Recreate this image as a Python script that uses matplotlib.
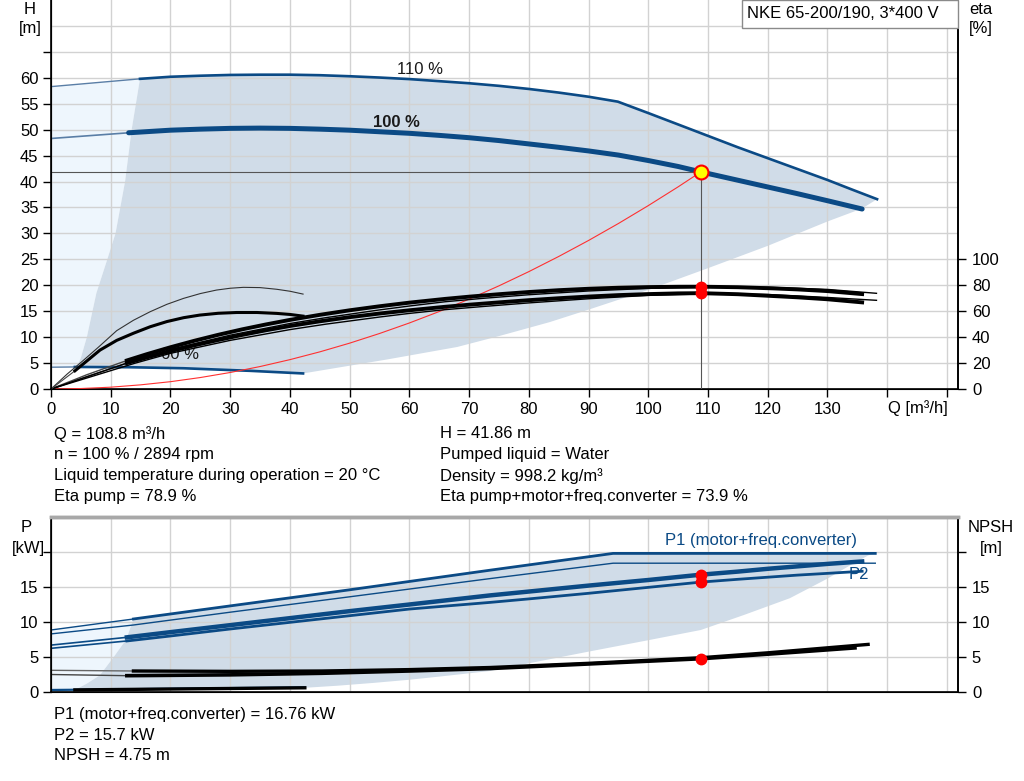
import numpy as np
import matplotlib
matplotlib.use("Agg")
from matplotlib import pyplot as plt
from matplotlib.patches import Rectangle

plt.rcParams['font.family'] = ['Liberation Sans', 'DejaVu Sans']

BLUE = '#0b4a85'
THINBLUE = '#5a7ea6'
FILL = '#d0dce8'
FILL_LIGHT = '#eef6fd'
GRID = '#d2d2d2'
FS = 12

# ---- head curves (Q in m3/h, H in m) ----
q_h110 = [0, 14.9, 20, 25, 30, 35, 40, 45, 50, 55, 60, 65, 70, 75, 80, 85, 90, 94.9,
          100, 105, 110, 115, 120, 125, 130, 134, 138.3]
h_h110 = [58.3, 59.8, 60.2, 60.4, 60.55, 60.6, 60.6, 60.5, 60.3, 60.05, 59.75, 59.35, 58.95, 58.45,
          57.85, 57.15, 56.35, 55.4, 53.2, 51.0, 48.8, 46.6, 44.5, 42.4, 40.3, 38.5, 36.6]
q_h100 = [0, 13, 20, 25, 30, 35, 40, 45, 50, 55, 60, 65, 70, 75, 80, 85, 90, 95, 100, 105,
          108.8, 115, 120, 125, 130, 135.8]
h_h100 = [48.3, 49.4, 49.9, 50.1, 50.25, 50.3, 50.25, 50.1, 49.9, 49.6, 49.3, 48.9, 48.45, 47.9,
          47.25, 46.6, 45.9, 45.1, 44.05, 42.9, 41.86, 40.25, 38.95, 37.65, 36.3, 34.7]
q_h60 = [0, 4, 13, 22.2, 33.4, 42.2]
h_h60 = [4.2, 4.25, 4.2, 4.0, 3.5, 3.0]

# operating range borders of the head diagram
q_hmin = [4.3, 5.0, 6.0, 7.6, 9.4, 10.8, 12.4, 13.5, 14.9]
h_hmin = [4.25, 6, 10, 18.5, 24.9, 30, 40, 50, 59.8]
q_hmax = [42.2, 56.3, 68, 75, 83.5, 90, 100, 110, 120, 130, 135.8, 138.3]
h_hmax = [3.0, 5.7, 8.1, 10.2, 12.9, 15.3, 19.1, 23.3, 27.6, 32.3, 34.8, 36.6]

# system curve
q_sys = [0, 5, 10, 15, 20, 25, 30, 35, 40, 45, 50, 55, 60, 65, 70, 75, 80, 85, 90, 95, 100, 105, 108.8]
h_sys = [0, 0.09, 0.35, 0.8, 1.41, 2.21, 3.18, 4.33, 5.66, 7.16, 8.84, 10.7, 12.73, 14.94, 17.33,
         19.89, 22.63, 25.55, 28.64, 31.91, 35.36, 38.98, 41.86]

# ---- efficiency curves (%) ----
q_eta100 = [0, 6, 12.7, 16, 20, 24, 28, 32, 36, 40, 45, 50, 55, 60, 66, 70, 75, 80, 85, 90, 95,
            100, 105, 108.8, 115, 120.9, 125, 130, 135.8]
eta_pump100 = [0, 11, 22, 26.8, 32.2, 37.2, 41.8, 46, 49.8, 53.3, 57.2, 60.7, 63.8, 66.6, 69.5,
               71.2, 73.1, 74.8, 76.2, 77.3, 78.1, 78.6, 78.85, 78.9, 78.5, 77.6, 76.8, 75.5, 73.2]
eta_tot100 = [0, 9.5, 20, 24.3, 29.2, 33.7, 37.8, 41.7, 45.3, 48.6, 52.2, 55.4, 58.2, 60.7, 63.4,
              65.0, 66.8, 68.5, 70.0, 71.3, 72.4, 73.2, 73.75, 73.9, 73.1, 71.7, 70.7, 69.2, 66.8]
q_eta110 = [0, 14, 20, 30, 40, 46, 55, 60, 66, 72, 80, 90, 100, 110, 120, 130, 138.2]
eta_pump110 = [0, 22, 30.5, 41.5, 50.5, 55, 61, 64, 67.3, 69.8, 72.7, 75.6, 77.6, 78.6, 78.5, 76.8, 73.8]
eta_tot110 = [0, 19.8, 27.5, 37.5, 45.8, 50, 55.5, 58.3, 61.2, 63.5, 66.4, 69.6, 72.2, 73.4, 72.9, 70.6, 68.4]
q_eta_p60 = [0, 2.7, 5.4, 8, 11, 13.8, 16.6, 19.4, 22.2, 25, 27.7, 30, 32.2, 35, 37.8, 40, 42.2]
eta_pump60 = [0, 11.5, 22, 32.5, 45, 53, 59.6, 65.3, 69.9, 73.6, 76.3, 77.7, 78.4, 78.2, 76.9, 75.4, 73.2]
q_eta_t60 = [0, 4, 8.2, 11, 13.8, 16.6, 19.4, 22.2, 24.9, 28, 31.1, 34.5, 37.8, 40, 42.2]
eta_tot60 = [0, 14, 30, 37.5, 43, 48, 52, 55, 57, 58.4, 59, 59, 58.3, 57.5, 56.2]

# ---- power / NPSH curves ----
q_p110 = [0, 13.8, 30, 50, 73.5, 94.1, 138]
p1_110 = [8.86, 10.43, 12.3, 14.6, 17.4, 19.8, 19.8]
p2_110 = [8.3, 9.57, 11.4, 13.6, 16.2, 18.4, 18.4]
q_p100 = [0, 12.7, 20, 30, 40, 50, 60, 73.5, 80, 90, 100, 108.8, 115, 120, 125, 130, 135.8]
p1_100 = [6.7, 7.81, 8.55, 9.55, 10.55, 11.55, 12.5, 13.8, 14.35, 15.2, 16.0, 16.76, 17.2, 17.6,
          17.95, 18.3, 18.65]
p2_100 = [6.24, 7.29, 8.0, 9.0, 9.95, 10.9, 11.85, 12.8, 13.3, 14.1, 14.95, 15.7, 16.1, 16.4,
          16.7, 16.95, 17.25]
q_npsh100 = [0, 12.7, 30, 45.3, 60, 73.5, 90, 108.8, 120, 134.6]
npsh100 = [2.5, 2.33, 2.45, 2.67, 3.0, 3.35, 4.0, 4.75, 5.4, 6.3]
q_npsh110 = [0, 13.8, 30, 45.3, 60, 73.5, 90, 108.8, 120, 136.8]
npsh110 = [3.1, 3.0, 2.95, 3.0, 3.2, 3.5, 4.1, 4.9, 5.6, 6.8]
q_60 = [0, 4, 42.5]
p_60 = [0.29, 0.32, 0.67]
npsh60 = [0.3, 0.3, 0.6]

q_pmin = [4.0, 6.0, 8.2, 10.5, 12.6, 13.8]
p_pmin = [0.3, 1.2, 2.4, 5.0, 7.5, 10.43]
q_pmax = [42.5, 48, 54, 60, 65, 73.5, 80, 90.2, 100, 108.8, 116, 123.7, 130, 134, 136.8, 138]
p_pmax = [0.6, 0.9, 1.3, 1.75, 2.2, 3.0, 4.1, 5.8, 7.4, 8.86, 11.0, 13.4, 16.2, 18.2, 19.5, 19.8]

# duty point
q_op = 108.8
h_op = 41.86
eta_op = [78.9, 73.9]
p_op = [16.76, 15.7]
npsh_op = 4.75

info_left = ["Q = 108.8 m\u00b3/h", "n = 100 % / 2894 rpm",
             "Liquid temperature during operation = 20 \u00b0C", "Eta pump = 78.9 %"]
info_right = ["H = 41.86 m", "Pumped liquid = Water",
              "Density = 998.2 kg/m\u00b3", "Eta pump+motor+freq.converter = 73.9 %"]
info_bottom = ["P1 (motor+freq.converter) = 16.76 kW", "P2 = 15.7 kW", "NPSH = 4.75 m"]

W, H = 1024, 781


def fpos(x, y):
    return x / W, 1 - y / H


fig = plt.figure(figsize=(W / 100, H / 100), dpi=100)
fig.patch.set_facecolor('white')

# ================= head / efficiency chart =================
ax = fig.add_axes([51 / W, 1 - 389 / H, 907 / W, 389 / H])
ax.set_xlim(0, 151.85)
ax.set_ylim(0, 75)

# light area left of min flow
lq = np.concatenate([q_h110[:2], q_hmin[::-1], [q_h60[1], q_h60[0]]])
lh = np.concatenate([h_h110[:2], h_hmin[::-1], [h_h60[1], h_h60[0]]])
ax.fill(lq, lh, color=FILL_LIGHT, lw=0, zorder=1)

# operating area
mq = np.concatenate([q_h110[1:], q_hmax[::-1][1:], q_h60[:0:-1][1:], q_hmin])
mh = np.concatenate([h_h110[1:], h_hmax[::-1][1:], h_h60[:0:-1][1:], h_hmin])
ax.fill(mq, mh, color=FILL, lw=0, zorder=1)

ax.set_xticks(range(0, 160, 10))
ax.set_xticklabels([str(v) if v <= 130 else '' for v in range(0, 160, 10)])
ax.set_yticks(range(0, 70, 5))
ax.set_yticklabels([str(v) if v <= 60 else '' for v in range(0, 70, 5)])
ax.grid(True, color=GRID, lw=1)
ax.axhline(70, color=GRID, lw=1, zorder=1.5)
ax.tick_params(direction='out', length=6, width=1, labelsize=FS, pad=3)
ax.spines['top'].set_visible(False)
for s in ['left', 'bottom', 'right']:
    ax.spines[s].set_linewidth(1.2)

ax.plot(q_h110[:2], h_h110[:2], color=THINBLUE, lw=1.0, zorder=3)
ax.plot(q_h110[1:], h_h110[1:], color=BLUE, lw=1.9, zorder=3)
ax.plot(q_h100[:2], h_h100[:2], color=THINBLUE, lw=1.2, zorder=3)
ax.plot(q_h100[1:], h_h100[1:], color=BLUE, lw=3.6, zorder=3, solid_capstyle='round')
ax.plot(q_h60[:2], h_h60[:2], color=THINBLUE, lw=1.0, zorder=3)
ax.plot(q_h60[1:], h_h60[1:], color=BLUE, lw=1.9, zorder=3)
ax.plot(q_sys, h_sys, color='#ff3030', lw=0.8, zorder=3)

ax.plot([0, q_op], [h_op, h_op], color='#555555', lw=0.8, zorder=3)
ax.plot([q_op, q_op], [0, h_op], color='#555555', lw=0.8, zorder=3)

ax.text(61.8, 61.6, "110 %", fontsize=FS, color='#1a1a1a', ha='center', va='center', zorder=4)
ax.text(57.8, 51.4, "100 %", fontsize=FS, fontweight='bold', color='#1a1a1a',
        ha='center', va='center', zorder=4)
ax.text(21.6, 6.6, "60 %", fontsize=FS, color='#1a1a1a', ha='center', va='center', zorder=2.5)

ax_eta = ax.twinx()
ax_eta.set_ylim(0, 300)
ax_eta.set_yticks(range(0, 101, 20))
ax_eta.tick_params(direction='out', length=6, width=1, labelsize=FS, pad=4)
ax_eta.spines['top'].set_visible(False)
ax_eta.spines['right'].set_linewidth(1.2)

ax_eta.plot(q_eta100[:3], eta_pump100[:3], color='#444444', lw=1.0)
ax_eta.plot(q_eta100[2:], eta_pump100[2:], color='black', lw=2.8)
ax_eta.plot(q_eta100[:3], eta_tot100[:3], color='#444444', lw=1.0)
ax_eta.plot(q_eta100[2:], eta_tot100[2:], color='black', lw=2.8)
ax_eta.plot(q_eta110, eta_pump110, color='black', lw=1.0)
ax_eta.plot(q_eta110, eta_tot110, color='black', lw=1.0)
ax_eta.plot(q_eta_p60, eta_pump60, color='#333333', lw=0.8)
ax_eta.plot(q_eta_t60[:2], eta_tot60[:2], color='#444444', lw=0.8)
ax_eta.plot(q_eta_t60[1:], eta_tot60[1:], color='black', lw=2.2)
ax_eta.plot([q_op, q_op], eta_op, 'o', color='#ff0000', ms=7.5, zorder=5)

# duty point on head curve (drawn on top)
ax_eta.plot([q_op], [h_op * 4], 'o', ms=10, mfc='#ffff00', mec='#ff0000', mew=1.5, zorder=6)

# title box
fig.patches.append(Rectangle(fpos(742, 28), 216 / W, 28 / H, transform=fig.transFigure,
                             facecolor='white', edgecolor='#8a8a8a', lw=1, zorder=5))
fig.text(*fpos(747, 14), "NKE 65-200/190, 3*400 V", fontsize=FS, ha='left', va='center', zorder=6)

fig.text(*fpos(30, 9), "H", fontsize=FS, ha='center', va='center')
fig.text(*fpos(30, 29), "[m]", fontsize=FS, ha='center', va='center')
fig.text(*fpos(981, 9), "eta", fontsize=FS, ha='center', va='center')
fig.text(*fpos(981, 29), "[%]", fontsize=FS, ha='center', va='center')
fig.text(*fpos(918, 408), "Q [m\u00b3/h]", fontsize=FS, ha='center', va='center')

for i, t in enumerate(info_left):
    fig.text(*fpos(54, 434 + 21 * i), t, fontsize=FS, ha='left', va='center')
for i, t in enumerate(info_right):
    fig.text(*fpos(440, 434 + 21 * i), t, fontsize=FS, ha='left', va='center')

# ================= power / NPSH chart =================
ax2 = fig.add_axes([51 / W, 1 - 692 / H, 907 / W, 175 / H])
ax2.set_xlim(0, 151.85)
ax2.set_ylim(0, 25)

lq2 = np.concatenate([q_p110[:2], q_pmin[::-1], [0]])
lp2 = np.concatenate([p1_110[:2], p_pmin[::-1], [p_60[0]]])
ax2.fill(lq2, lp2, color=FILL_LIGHT, lw=0, zorder=1)
mq2 = np.concatenate([q_p110[1:], q_pmax[::-1][1:], [q_60[1]], q_pmin])
mp2 = np.concatenate([p1_110[1:], p_pmax[::-1][1:], [p_60[1]], p_pmin])
ax2.fill(mq2, mp2, color=FILL, lw=0, zorder=1)

ax2.set_xticks(range(0, 160, 10))
ax2.set_yticks(range(0, 25, 5))
ax2.set_yticklabels([str(v) if v <= 15 else '' for v in range(0, 25, 5)])
ax2.grid(True, color=GRID, lw=1)
ax2.tick_params(axis='x', length=0, labelbottom=False)
ax2.tick_params(axis='y', direction='out', length=6, width=1, labelsize=FS, pad=3)
ax2.spines['top'].set_color('#a8a8a8')
ax2.spines['top'].set_linewidth(2.5)
for s in ['left', 'bottom', 'right']:
    ax2.spines[s].set_linewidth(1.2)

ax2.plot(q_p110[:2], p1_110[:2], color=BLUE, lw=1.0, zorder=3)
ax2.plot(q_p110[1:], p1_110[1:], color=BLUE, lw=2.0, zorder=3)
ax2.plot(q_p110, p2_110, color=BLUE, lw=1.0, zorder=3)
ax2.plot(q_p100[:2], p1_100[:2], color=BLUE, lw=1.2, zorder=3)
ax2.plot(q_p100[1:], p1_100[1:], color=BLUE, lw=3.2, zorder=3)
ax2.plot(q_p100[:2], p2_100[:2], color=BLUE, lw=1.2, zorder=3)
ax2.plot(q_p100[1:], p2_100[1:], color=BLUE, lw=2.0, zorder=3)
ax2.plot(q_60, p_60, color=BLUE, lw=1.6, zorder=3)
ax2.plot(q_npsh110[:2], npsh110[:2], color='#666666', lw=1.0, zorder=3)
ax2.plot(q_npsh110[1:], npsh110[1:], color='black', lw=2.4, zorder=3)
ax2.plot(q_npsh100[:2], npsh100[:2], color='#444444', lw=1.0, zorder=3)
ax2.plot(q_npsh100[1:], npsh100[1:], color='black', lw=2.6, zorder=3)
ax2.plot(q_60[1:], npsh60[1:], color='black', lw=2.4, zorder=3)
ax2.plot([q_op] * 3, p_op + [npsh_op], 'o', color='#ff0000', ms=7.5, zorder=5)

ax2.text(118.9, 21.6, "P1 (motor+freq.converter)", fontsize=FS, color=BLUE,
         ha='center', va='center', zorder=4)
ax2.text(135.3, 16.8, "P2", fontsize=FS, color=BLUE, ha='center', va='center', zorder=4)

ax2r = ax2.twinx()
ax2r.set_ylim(0, 25)
ax2r.set_yticks(range(0, 25, 5))
ax2r.set_yticklabels([str(v) if v <= 15 else '' for v in range(0, 25, 5)])
ax2r.tick_params(direction='out', length=6, width=1, labelsize=FS, pad=4)
ax2r.spines['top'].set_color('#a8a8a8')
ax2r.spines['top'].set_linewidth(2.5)
ax2r.spines['right'].set_linewidth(1.2)

fig.text(*fpos(26, 527), "P", fontsize=FS, ha='center', va='center')
fig.text(*fpos(28, 548), "[kW]", fontsize=FS, ha='center', va='center')
fig.text(*fpos(991, 527), "NPSH", fontsize=FS, ha='center', va='center')
fig.text(*fpos(991, 548), "[m]", fontsize=FS, ha='center', va='center')

for i, t in enumerate(info_bottom):
    fig.text(*fpos(54, 714 + 21 * i), t, fontsize=FS, ha='left', va='center')

plt.savefig("out.png", dpi=100)
plt.close()
